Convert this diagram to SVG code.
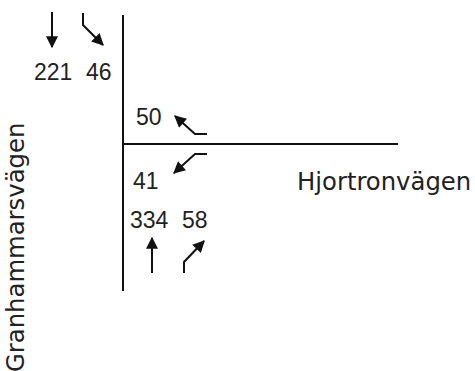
<svg xmlns="http://www.w3.org/2000/svg" width="475" height="371" viewBox="0 0 475 371">
<style>
.road{stroke:#111;stroke-width:2;fill:none}
.arr{stroke:#111;stroke-width:2;fill:none;marker-end:url(#ah)}
text{font-family:"Liberation Sans",Arial,sans-serif;font-size:23px;fill:#222}
.street{font-family:"DejaVu Sans",sans-serif;font-size:24.3px}
</style>
<defs>
<marker id="ah" viewBox="0 0 10 10" refX="9" refY="5" markerWidth="6.5" markerHeight="6" orient="auto" markerUnits="strokeWidth">
<path d="M0,0 L10,5 L0,10 z" fill="#111"/>
</marker>
</defs>
<g id="roads">
<line class="road" x1="123" y1="15" x2="123" y2="291"/>
<line class="road" x1="123" y1="144" x2="398" y2="144"/>
</g>
<g id="connectors">
<path class="arr" d="M52,12 L52,47"/>
<path class="arr" d="M83,13 L83,25 L103,45"/>
<path class="arr" d="M207,134 L195,134 L175,116"/>
<path class="arr" d="M207,154 L195,154 L174,173"/>
<path class="arr" d="M152,273 L152,238"/>
<path class="arr" d="M184,273 L184,262 L204,241"/>
</g>
<g id="south-labels">
<text x="34" y="80">221</text>
<text x="86" y="80">46</text>
</g>
<g id="east-labels">
<text x="136" y="125">50</text>
<text x="133" y="189">41</text>
</g>
<g id="north-labels">
<text x="130" y="228">334</text>
<text x="182" y="228">58</text>
</g>
<g id="street-east">
<text class="street" x="297" y="190">Hjortronvägen</text>
</g>
<g id="street-north">
<text class="street" transform="translate(24,372) rotate(-90)">Granhammarsvägen</text>
</g>
</svg>
